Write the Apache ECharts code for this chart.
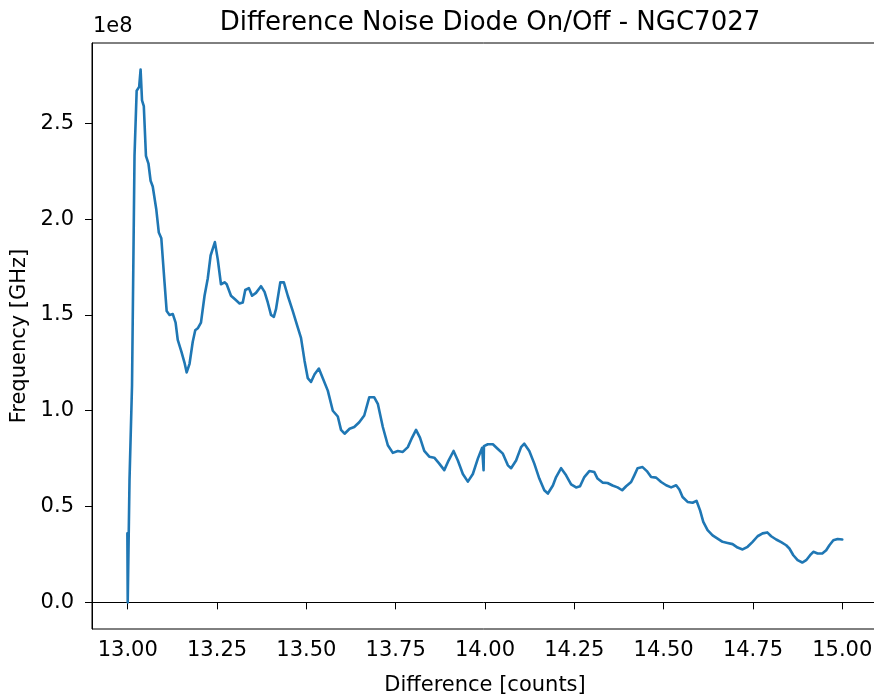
<!DOCTYPE html>
<html>
<head>
<meta charset="utf-8">
<script src="https://cdn.jsdelivr.net/npm/echarts@6/dist/echarts.min.js"></script>
<style>
  html, body { margin: 0; padding: 0; background: #fff; }
  #chart { width: 874px; height: 697px; }
</style>
</head>
<body>
<div id="chart"></div>
<script>
// difference [counts]
var diff = [
  12.999, 13.000, 13.005, 13.012, 13.019, 13.025, 13.029, 13.032, 13.036, 13.040,
  13.045, 13.051, 13.058, 13.064, 13.070, 13.080, 13.087, 13.094, 13.103, 13.109,
  13.117, 13.126, 13.134, 13.140, 13.150, 13.159, 13.165, 13.173, 13.182, 13.189,
  13.196, 13.205, 13.215, 13.224, 13.232, 13.244, 13.252, 13.261, 13.271, 13.277,
  13.289, 13.301, 13.313, 13.322, 13.329, 13.339, 13.348, 13.359, 13.373, 13.383,
  13.392, 13.401, 13.409, 13.415, 13.427, 13.437, 13.448, 13.462, 13.475, 13.485,
  13.495, 13.504, 13.513, 13.523, 13.535, 13.546, 13.560, 13.574, 13.588, 13.597,
  13.607, 13.621, 13.634, 13.648, 13.662, 13.676, 13.690, 13.700, 13.714, 13.728,
  13.742, 13.756, 13.770, 13.784, 13.796, 13.807, 13.818, 13.830, 13.844, 13.858,
  13.872, 13.886, 13.898, 13.912, 13.924, 13.938, 13.952, 13.966, 13.980, 13.992,
  13.995, 13.996, 13.997, 14.008, 14.022, 14.036, 14.050, 14.064, 14.073, 14.087,
  14.101, 14.110, 14.124, 14.138, 14.152, 14.166, 14.176, 14.190, 14.199, 14.213,
  14.227, 14.241, 14.255, 14.266, 14.278, 14.292, 14.306, 14.315, 14.329, 14.343,
  14.357, 14.371, 14.384, 14.395, 14.409, 14.418, 14.427, 14.441, 14.453, 14.465,
  14.479, 14.493, 14.507, 14.521, 14.535, 14.544, 14.553, 14.567, 14.581, 14.592,
  14.602, 14.611, 14.623, 14.637, 14.651, 14.665, 14.679, 14.693, 14.707, 14.721,
  14.735, 14.749, 14.763, 14.777, 14.790, 14.801, 14.815, 14.829, 14.843, 14.852,
  14.863, 14.875, 14.888, 14.899, 14.910, 14.919, 14.931, 14.944, 14.955, 14.964,
  14.975, 14.987, 15.000
];

// frequency, in units of 1e8
var freq = [
  0.36, 0.00, 0.64, 1.13, 2.33, 2.67, 2.68, 2.69, 2.78, 2.62,
  2.59, 2.33, 2.29, 2.20, 2.17, 2.05, 1.93, 1.90, 1.67, 1.52,
  1.50, 1.505, 1.46, 1.37, 1.31, 1.25, 1.20, 1.245, 1.36, 1.42,
  1.43, 1.46, 1.60, 1.69, 1.81, 1.88, 1.79, 1.66, 1.67, 1.66,
  1.60, 1.58, 1.56, 1.565, 1.63, 1.64, 1.60, 1.615, 1.65, 1.62,
  1.565, 1.50, 1.49, 1.53, 1.67, 1.67, 1.60, 1.52, 1.44, 1.38,
  1.26, 1.17, 1.15, 1.19, 1.22, 1.17, 1.105, 1.00, 0.97, 0.90,
  0.88, 0.906, 0.915, 0.94, 0.975, 1.07, 1.07, 1.036, 0.915, 0.82,
  0.78, 0.79, 0.785, 0.81, 0.86, 0.90, 0.86, 0.79, 0.76, 0.755,
  0.724, 0.69, 0.74, 0.79, 0.74, 0.67, 0.63, 0.67, 0.75, 0.807,
  0.815, 0.69, 0.815, 0.825, 0.825, 0.80, 0.776, 0.715, 0.70, 0.74,
  0.81, 0.828, 0.79, 0.724, 0.646, 0.585, 0.568, 0.61, 0.654, 0.70,
  0.663, 0.616, 0.60, 0.606, 0.654, 0.685, 0.68, 0.646, 0.625, 0.623,
  0.61, 0.60, 0.585, 0.606, 0.628, 0.663, 0.70, 0.706, 0.685, 0.654,
  0.651, 0.628, 0.611, 0.60, 0.611, 0.589, 0.55, 0.524, 0.52, 0.53,
  0.48, 0.42, 0.377, 0.35, 0.333, 0.316, 0.31, 0.304, 0.286, 0.276,
  0.29, 0.316, 0.345, 0.36, 0.365, 0.345, 0.328, 0.314, 0.298, 0.281,
  0.246, 0.22, 0.208, 0.22, 0.246, 0.264, 0.255, 0.255, 0.272, 0.298,
  0.324, 0.331, 0.328
];

var xTicks = [13.0, 13.25, 13.5, 13.75, 14.0, 14.25, 14.5, 14.75, 15.0];
var yTicks = [0, 0.5, 1.0, 1.5, 2.0, 2.5];

var font = "DejaVu Sans";
var chartDom = document.getElementById("chart");
var myChart = echarts.init(chartDom, null, { renderer: "canvas" });

var option = {
  animation: false,
  backgroundColor: "#fff",
  title: {
    text: "Difference Noise Diode On/Off - NGC7027",
    left: 485,
    top: 5,
    textAlign: "center",
    textStyle: { fontFamily: font, fontSize: 26, fontWeight: "normal", color: "#000" },
  },
  graphic: [
    {
      type: "text",
      left: 93,
      top: 16,
      style: { text: "1e8", font: "21px DejaVu Sans", fill: "#000" },
    },
  ],
  grid: {
    left: 92,
    right: -4,
    top: 43,
    bottom: 68,
    outerBoundsMode: "none",
    show: true,
    borderColor: "#000",
    borderWidth: 1,
  },
  xAxis: {
    type: "value",
    min: 12.9,
    max: 15.1,
    name: "Difference [counts]",
    nameLocation: "middle",
    nameGap: 46,
    nameTextStyle: { fontFamily: font, fontSize: 21, color: "#000" },
    axisLine: { show: true, lineStyle: { color: "#000", width: 1 } },
    axisTick: { show: true, length: 7, inside: false, lineStyle: { color: "#000" }, customValues: xTicks },
    axisLabel: {
      fontFamily: font,
      fontSize: 21,
      color: "#000",
      margin: 11,
      customValues: xTicks,
      formatter: function(v) {
        return v.toFixed(2);
      },
    },
    splitLine: { show: false },
  },
  yAxis: {
    type: "value",
    min: -0.139,
    max: 2.919,
    name: "Frequency [GHz]",
    nameLocation: "middle",
    nameGap: 62,
    nameRotate: 90,
    nameTextStyle: { fontFamily: font, fontSize: 21, color: "#000" },
    axisLine: { show: true, lineStyle: { color: "#000", width: 1 } },
    axisTick: { show: true, length: 7, inside: false, lineStyle: { color: "#000" }, customValues: yTicks },
    axisLabel: {
      fontFamily: font,
      fontSize: 21,
      color: "#000",
      margin: 18,
      customValues: yTicks,
      formatter: function(v) {
        return v.toFixed(1);
      },
    },
    splitLine: { show: false },
  },
  series: [
    {
      type: "line",
      data: diff.map((d, i) => [d, freq[i]]),
      showSymbol: false,
      lineStyle: { color: "#1f77b4", width: 2.6, join: "round", cap: "round" },
      itemStyle: { color: "#1f77b4" },
    },
  ],
};

myChart.setOption(option);

window.addEventListener("resize", function() {
  myChart.resize();
});
</script>
</body>
</html>
